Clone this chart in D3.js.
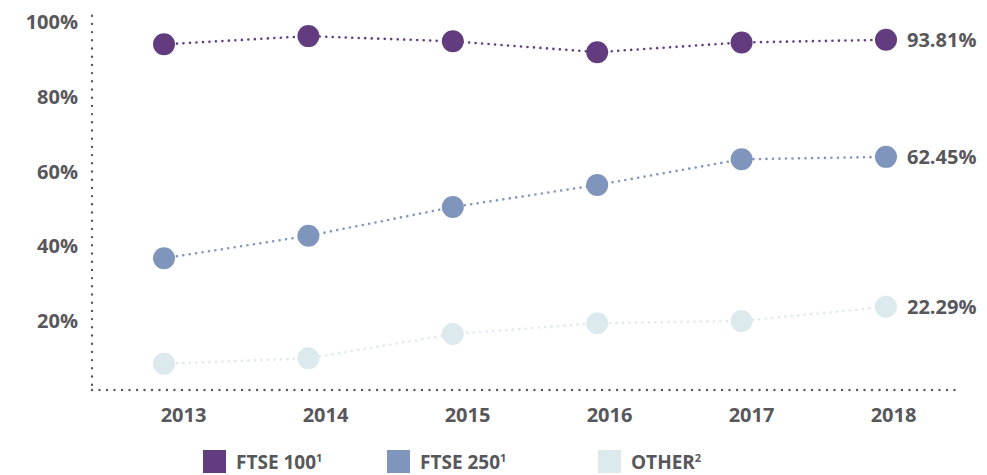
<!DOCTYPE html>
<html>
<head>
<meta charset="utf-8">
<script src="https://cdn.jsdelivr.net/npm/d3@7"></script>
<style>
  html, body { margin: 0; padding: 0; background: #ffffff; }
  svg { display: block; }
  text { font-family: "Open Sans", "Lato", sans-serif; font-weight: 700; fill: #58575b; }
</style>
</head>
<body>
<svg id="chart" width="987" height="475"></svg>
<script>
const years = ["2013", "2014", "2015", "2016", "2017", "2018"];
const ftse100 = [92.6, 94.8, 93.4, 90.5, 93.1, 93.81];
const ftse250 = [35.3, 41.3, 49.0, 54.9, 61.8, 62.45];
const other = [7.0, 8.5, 15.0, 17.9, 18.5, 22.29];
const yTicks = [20, 40, 60, 80, 100];
const seriesNames = ["FTSE 100", "FTSE 250", "OTHER"];
const seriesNotes = ["1", "1", "2"];
const endLabels = ["93.81%", "62.45%", "22.29%"];
const colors = ["#633c80", "#7f95bb", "#dce9ed"];

const series = [ftse100, ftse250, other];
const svg = d3.select("#chart");

const x = d3.scalePoint().domain(years).range([164, 886]);
const xLabel = d3.scalePoint().domain(years).range([183, 893]);
const y = d3.scaleLinear().domain([0, 100]).range([390, 16.7]);

// axes (dotted)
const axisColor = "#58575b";
svg.append("line")
  .attr("x1", 92).attr("x2", 92)
  .attr("y1", y(100) - 1).attr("y2", y(0))
  .attr("stroke", axisColor).attr("stroke-width", 2.4)
  .attr("stroke-linecap", "round").attr("stroke-dasharray", "0,8.2");
svg.append("line")
  .attr("x1", 92).attr("x2", 962)
  .attr("y1", y(0)).attr("y2", y(0))
  .attr("stroke", axisColor).attr("stroke-width", 2.4)
  .attr("stroke-linecap", "round").attr("stroke-dasharray", "0,7.5");

// y tick labels
const yAxis = d3.axisLeft(y).tickValues(yTicks).tickSize(0).tickPadding(0)
  .tickFormat(d => d + "%");
const gy = svg.append("g").attr("transform", "translate(78,5)").call(yAxis);
gy.select(".domain").remove();
gy.selectAll("text").attr("fill", "#58575b").style("font-size", "20px")
  .attr("x", 0).attr("dy", "0.35em");

// x tick labels
const xAxis = d3.axisBottom(xLabel).tickSize(0).tickPadding(0);
const gx = svg.append("g").attr("transform", "translate(0,408)").call(xAxis);
gx.select(".domain").remove();
gx.selectAll("text").attr("fill", "#58575b").style("font-size", "20px")
  .attr("y", 0).attr("dy", "0.72em");

// lines and points
const line = d3.line().x((d, i) => x(years[i])).y(d => y(d));
series.forEach((vals, si) => {
  svg.append("path")
    .datum(vals)
    .attr("d", line)
    .attr("fill", "none")
    .attr("stroke", colors[si])
    .attr("stroke-width", 2.6)
    .attr("stroke-linecap", "round")
    .attr("stroke-dasharray", "0,6.5");
  svg.append("g").selectAll("circle")
    .data(vals)
    .join("circle")
    .attr("cx", (d, i) => x(years[i]))
    .attr("cy", d => y(d))
    .attr("r", 11)
    .attr("fill", colors[si]);
  svg.append("text")
    .attr("x", x(years[years.length - 1]) + 21)
    .attr("y", y(vals[vals.length - 1]))
    .attr("dy", "0.36em")
    .style("font-size", "20px")
    .text(endLabels[si]);
});

// legend
const legendX = [203, 387, 598];
seriesNames.forEach((name, i) => {
  const g = svg.append("g").attr("transform", `translate(${legendX[i]},450)`);
  g.append("rect").attr("width", 23).attr("height", 23).attr("fill", colors[i]);
  const t = g.append("text").attr("x", 33).attr("y", 19).style("font-size", "19px");
  t.append("tspan").text(name);
  t.append("tspan").attr("dy", -7).style("font-size", "11px").text(seriesNotes[i]);
});
</script>
</body>
</html>
